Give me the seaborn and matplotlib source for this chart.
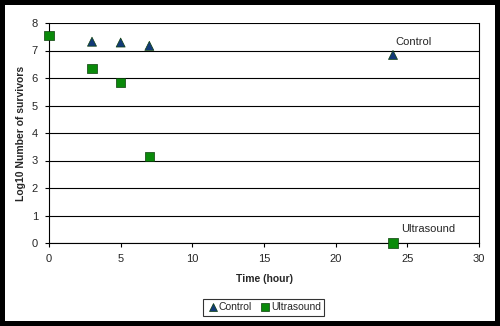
import matplotlib
matplotlib.use("Agg")
import matplotlib.pyplot as plt
import seaborn as sns
import pandas as pd
from matplotlib.patches import Rectangle

# Data
control_times = [3, 5, 7, 24]
control_values = [7.32, 7.29, 7.17, 6.84]
ultrasound_times = [0, 3, 5, 7, 24]
ultrasound_values = [7.56, 6.33, 5.84, 3.16, 0.0]
series_names = ["Control", "Ultrasound"]
x_ticks = [0, 5, 10, 15, 20, 25, 30]
y_ticks = [0, 1, 2, 3, 4, 5, 6, 7, 8]

df = pd.DataFrame({
    "Time": control_times + ultrasound_times,
    "Value": control_values + ultrasound_values,
    "Series": [series_names[0]] * len(control_times) + [series_names[1]] * len(ultrasound_times),
})

sns.set_theme(style="white")
plt.rcParams["font.family"] = ["Liberation Sans", "DejaVu Sans"]

fig = plt.figure(figsize=(5.0, 3.26), dpi=100)
fig.patch.set_facecolor("black")
fig.patches.append(Rectangle((5 / 500, 5 / 326), 490 / 500, 316 / 326,
                             transform=fig.transFigure, facecolor="white",
                             edgecolor="none", zorder=-10))

ax = fig.add_axes([49 / 500, 1 - 243 / 326, 430 / 500, 220 / 326])
ax.set_facecolor("white")

palette = {"Control": "#123a78", "Ultrasound": "#0a8a0a"}
markers = {"Control": "^", "Ultrasound": "s"}
sns.scatterplot(data=df, x="Time", y="Value", hue="Series", style="Series",
                palette=palette, markers=markers, s=42, edgecolor="#0b3d0b",
                linewidth=0.5, ax=ax, zorder=5, clip_on=False, legend=True)

ax.set_xlim(0, 30)
ax.set_ylim(0, 8)
ax.set_xticks(x_ticks)
ax.set_yticks(y_ticks)
ax.set_xticklabels([str(t) for t in x_ticks], fontsize=8)
ax.set_yticklabels([str(t) for t in y_ticks], fontsize=8)
ax.tick_params(axis="both", direction="out", length=3, width=0.8, color="black",
               pad=5, bottom=True, left=True)
ax.yaxis.grid(True, color="black", linewidth=0.8)
ax.xaxis.grid(False)
ax.set_axisbelow(True)
for side in ["left", "bottom", "right"]:
    ax.spines[side].set_visible(True)
    ax.spines[side].set_color("black")
    ax.spines[side].set_linewidth(0.8)
ax.spines["top"].set_visible(False)

ax.set_xlabel("Time (hour)", fontsize=7.5, fontweight="bold", labelpad=7)
ax.set_ylabel("Log10 Number of survivors", fontsize=7.5, fontweight="bold", labelpad=4)

ax.text(24.2, 7.31, "Control", fontsize=8, va="center", ha="left")
ax.text(24.6, 0.51, "Ultrasound", fontsize=8, va="center", ha="left")

leg = ax.legend(loc="center", bbox_to_anchor=(263.5 / 500, 1 - 307.5 / 326),
                bbox_transform=fig.transFigure, ncol=2, fontsize=7.5,
                frameon=True, fancybox=False, edgecolor="black",
                handletextpad=0.0, columnspacing=0.6, borderpad=0.3,
                handlelength=1.2, markerscale=0.8)
leg.get_frame().set_linewidth(0.8)
leg.get_frame().set_facecolor("white")

fig.savefig("out.png", dpi=100, facecolor=fig.get_facecolor())
